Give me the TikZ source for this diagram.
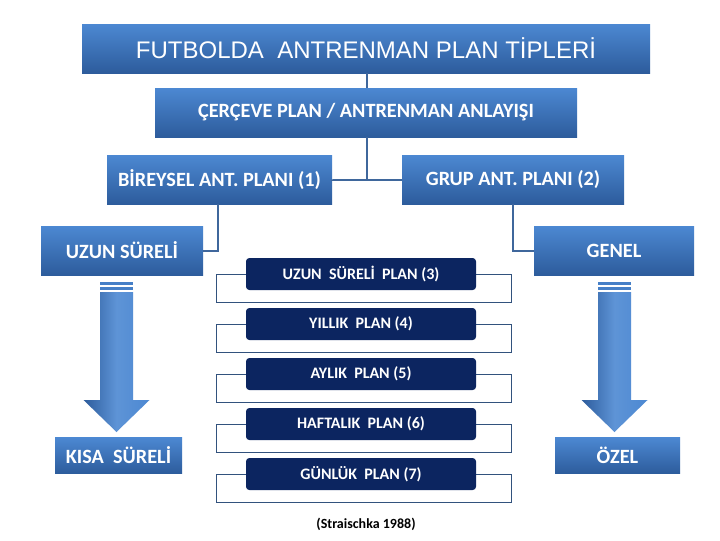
\documentclass[tikz,border=0pt]{standalone}
\usepackage{fontspec}
\setmainfont{Carlito}
\newfontfamily\arialf{Liberation Sans}
\definecolor{blt}{HTML}{4C88D2}
\definecolor{bdk}{HTML}{2D5C9C}
\definecolor{navy}{HTML}{0C2560}
\definecolor{lnc}{HTML}{3F679C}
\begin{document}
\begin{tikzpicture}[x=0.75pt,y=-0.75pt,
 bbox/.style={top color=blt,bottom color=bdk,draw=none,text=white,font=\bfseries\fontsize{15.2}{17}\selectfont,inner sep=0pt},
 pbox/.style={fill=navy,rounded corners=2.5pt,text=white,font=\bfseries\fontsize{12}{14}\selectfont,inner sep=0pt,minimum width=172.5pt,minimum height=24pt},
 conn/.style={draw=lnc,line width=2.2pt},
 thin/.style={draw=lnc!80!black,line width=0.7pt},
 arr/.style={left color=bdk,right color=blt,middle color=blt!90!white,draw=none}]
\useasboundingbox (0,0) rectangle (720,540);
\fill[white] (0,0) rectangle (720,540);
% bracket lines
\foreach \y in {274,324,374,424,474}{
 \draw[thin] (246,\y) -- (216,\y) -- (216,\y+28) -- (511,\y+28) -- (511,\y) -- (476,\y);
}
% connectors
\coordinate (c0) at (367,0);
\coordinate (c1) at (367,180);
\coordinate (c2) at (218,251);
\coordinate (c3) at (513,251);
\node[bbox,minimum width=426pt,minimum height=36.75pt,font=\arialf\fontsize{18}{20}\selectfont] (t) at (366,48.5) {FUTBOLDA\ \ ANTRENMAN PLAN TİPLERİ};
\node[bbox,minimum width=316.5pt,minimum height=36.75pt] (cer) at (366,112.5) {ÇERÇEVE PLAN / ANTRENMAN ANLAYIŞI};
\node[bbox,minimum width=168.75pt,minimum height=36.75pt] (bir) at (219.5,179.5) {BİREYSEL ANT. PLANI (1)};
\node[bbox,minimum width=166.5pt,minimum height=36.75pt] (grup) at (513,179.5) {GRUP ANT. PLANI (2)};
\node[bbox,minimum width=121.5pt,minimum height=36.75pt] (uzun) at (122,250.5) {UZUN SÜRELİ};
\node[bbox,minimum width=120pt,minimum height=36.75pt] (genel) at (614,250.5) {GENEL};
\node[bbox,minimum width=95.25pt,minimum height=27pt] (kisa) at (118.5,455.5) {KISA\ \ SÜRELİ};
\node[bbox,minimum width=93.75pt,minimum height=27pt] (ozel) at (617.5,455.5) {ÖZEL};
\draw[conn] (t.south -| c0) -- (cer.north -| c0);
\draw[conn] (cer.south -| c1) -- (c1);
\draw[conn] (bir.east) -- (c1 -| bir.east) -- (c1) -- (c1 -| grup.west);
\draw[conn] (bir.south -| c2) -- (c2) -- (uzun.east |- c2);
\draw[conn] (grup.south -| c3) -- (c3) -- (genel.west |- c3);
% plan boxes
\node[pbox] (p3) at (361,274) {UZUN\ \ SÜRELİ\ \ PLAN (3)};
\node[pbox] (p4) at (361,324) {YILLIK\ \ PLAN (4)};
\node[pbox] (p5) at (361,374) {AYLIK\ \ PLAN (5)};
\node[pbox] (p6) at (361,424) {HAFTALIK\ \ PLAN (6)};
\node[pbox] (p7) at (361,474) {GÜNLÜK\ \ PLAN (7)};
\node[font=\bfseries\fontsize{10.5}{12}\selectfont] (src) at (366,524) {(Straischka 1988)};
% arrows
\foreach \cx in {116.5,614.5}{
 \shade[arr] (\cx-16.5,292) -- (\cx+16.5,292) -- (\cx+16.5,400) -- (\cx+33,400) -- (\cx,432) -- (\cx-33,400) -- (\cx-16.5,400) -- cycle;
 \fill[blt!80!bdk] (\cx-16.5,282) rectangle (\cx+16.5,284.5);
 \fill[blt!80!bdk] (\cx-16.5,287) rectangle (\cx+16.5,290);
}
\end{tikzpicture}
\end{document}
